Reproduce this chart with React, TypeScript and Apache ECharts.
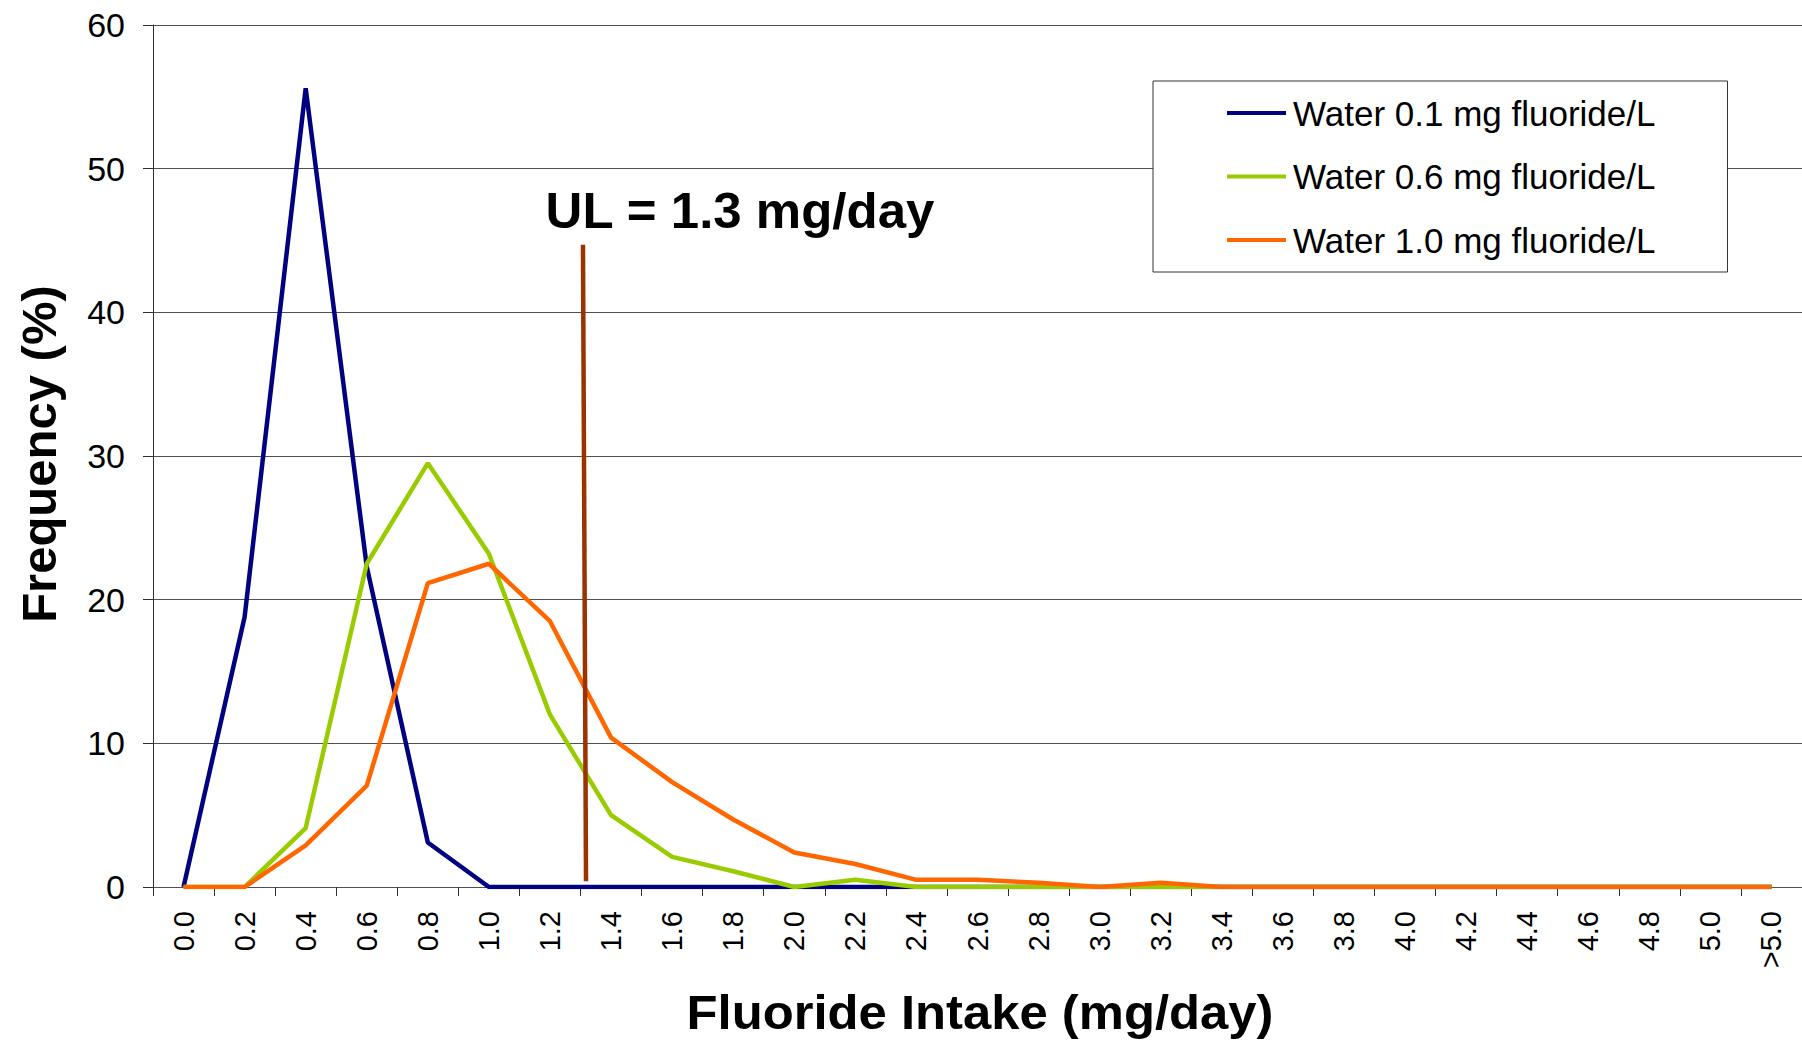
import React, { useEffect, useRef } from "react";
import * as echarts from "echarts";

const categories = [
  "0.0", "0.2", "0.4", "0.6", "0.8", "1.0", "1.2", "1.4", "1.6", "1.8",
  "2.0", "2.2", "2.4", "2.6", "2.8", "3.0", "3.2", "3.4", "3.6", "3.8",
  "4.0", "4.2", "4.4", "4.6", "4.8", "5.0", ">5.0",
];

const water01 = [
  0, 18.8, 55.6, 22.3, 3.1, 0, 0, 0, 0, 0,
  0, 0, 0, 0, 0, 0, 0, 0, 0, 0,
  0, 0, 0, 0, 0, 0, 0,
];
const water06 = [
  0, 0, 4.1, 22.5, 29.5, 23.2, 12.0, 5.0, 2.1, 1.1,
  0, 0.5, 0, 0, 0, 0, 0, 0, 0, 0,
  0, 0, 0, 0, 0, 0, 0,
];
const water10 = [
  0, 0, 2.9, 7.05, 21.15, 22.5, 18.5, 10.4, 7.3, 4.7,
  2.4, 1.6, 0.5, 0.5, 0.3, 0, 0.3, 0, 0, 0,
  0, 0, 0, 0, 0, 0, 0,
];

const seriesNames = [
  "Water 0.1 mg fluoride/L",
  "Water 0.6 mg fluoride/L",
  "Water 1.0 mg fluoride/L",
];

// UL marker line (category index position, frequency)
const ulX = [6.54, 6.59];
const ulY = [44.7, 0.4];
const ulText = "UL = 1.3 mg/day";

const yTicks = { min: 0, max: 60, interval: 10 };

const FONT = "'Liberation Sans', Arial, sans-serif";

export default function App() {
  const ref = useRef<HTMLDivElement>(null);

  useEffect(() => {
    if (!ref.current) return;
    const chart = echarts.init(ref.current, null, { renderer: "svg" });
    const axisColor = "#505050";
    chart.setOption({
      animation: false,
      backgroundColor: "#ffffff",
      textStyle: { fontFamily: FONT },
      grid: { left: 153, top: 25, right: 0, bottom: 153, containLabel: false },
      legend: {
        orient: "vertical",
        left: 1153,
        top: 81,
        data: seriesNames,
        icon: "rect",
        itemWidth: 59,
        itemHeight: 4,
        itemGap: 23.5,
        padding: [12, 72, 12, 74],
        borderColor: "#303030",
        borderWidth: 1,
        backgroundColor: "#ffffff",
        textStyle: { fontFamily: FONT, fontSize: 35, color: "#000", lineHeight: 40, padding: [0, 0, 0, 2] },
      },
      xAxis: [
        {
          type: "category",
          data: categories,
          boundaryGap: true,
          axisLine: { show: true, onZero: false, lineStyle: { color: axisColor, width: 1 } },
          axisTick: { show: true, length: 9, inside: false, alignWithLabel: false, lineStyle: { color: "#303030" } },
          axisLabel: {
            interval: 0,
            rotate: 90,
            margin: 24,
            fontSize: 29,
            color: "#000",
            fontFamily: FONT,
          },
          splitLine: { show: false },
        },
        {
          type: "value",
          show: false,
          min: -0.5,
          max: 26.5,
          axisLine: { onZero: false },
          splitLine: { show: false },
        },
      ],
      yAxis: {
        type: "value",
        min: yTicks.min,
        max: yTicks.max,
        interval: yTicks.interval,
        axisLine: { show: true, onZero: false, lineStyle: { color: "#303030", width: 1 } },
        axisTick: { show: true, length: 10, lineStyle: { color: "#303030" } },
        axisLabel: { margin: 28, fontSize: 34, color: "#000", fontFamily: FONT },
        splitLine: { show: true, lineStyle: { color: axisColor, width: 1 } },
      },
      series: [
        {
          name: seriesNames[0],
          type: "line",
          data: water01,
          symbol: "none",
          showSymbol: false,
          lineStyle: { color: "#000080", width: 4.5 },
          itemStyle: { color: "#000080" },
        },
        {
          name: seriesNames[1],
          type: "line",
          data: water06,
          symbol: "none",
          showSymbol: false,
          lineStyle: { color: "#99CC00", width: 4.5 },
          itemStyle: { color: "#99CC00" },
        },
        {
          name: seriesNames[2],
          type: "line",
          data: water10,
          symbol: "none",
          showSymbol: false,
          lineStyle: { color: "#FF6600", width: 4.5 },
          itemStyle: { color: "#FF6600" },
        },
        {
          name: "UL",
          type: "line",
          xAxisIndex: 1,
          data: ulX.map((x, i) => [x, ulY[i]]),
          symbol: "none",
          showSymbol: false,
          silent: true,
          lineStyle: { color: "#993300", width: 4.5 },
          itemStyle: { color: "#993300" },
        },
      ],
      graphic: [
        {
          type: "text",
          x: 740,
          y: 211,
          scaleX: 1.02,
          style: {
            text: ulText,
            fontFamily: FONT,
            fontSize: 50,
            fontWeight: "bold",
            fill: "#000",
            align: "center",
            verticalAlign: "middle",
          },
        },
        {
          type: "text",
          x: 980,
          y: 1012,
          scaleX: 1.058,
          style: {
            text: "Fluoride Intake (mg/day)",
            fontFamily: FONT,
            fontSize: 48,
            fontWeight: "bold",
            fill: "#000",
            align: "center",
            verticalAlign: "middle",
          },
        },
        {
          type: "text",
          x: 39,
          y: 454,
          rotation: Math.PI / 2,
          style: {
            text: "Frequency (%)",
            fontFamily: FONT,
            fontSize: 49,
            fontWeight: "bold",
            fill: "#000",
            align: "center",
            verticalAlign: "middle",
          },
        },
      ],
    });
    return () => chart.dispose();
  }, []);

  return (
    <div
      ref={ref}
      style={{ position: "fixed", left: 0, top: 0, width: 1802, height: 1040 }}
    />
  );
}
